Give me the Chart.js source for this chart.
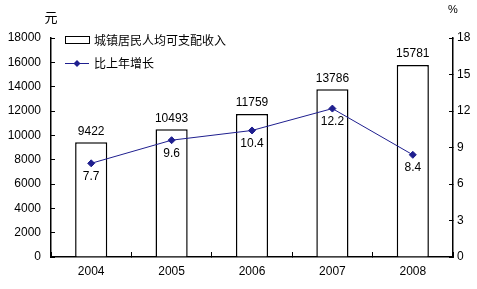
<!DOCTYPE html>
<html>
<head>
<meta charset="utf-8">
<script src="https://cdn.jsdelivr.net/npm/chart.js@4"></script>
<style>
  html, body { margin: 0; padding: 0; background: #fff; }
  #wrap { width: 477px; height: 289px; }
</style>
</head>
<body>
<div id="wrap"><canvas id="incomeChart" width="477" height="289"></canvas></div>
<script>
const years = ['2004', '2005', '2006', '2007', '2008'];
const income = [9422, 10493, 11759, 13786, 15781];
const growth = [7.7, 9.6, 10.4, 12.2, 8.4];
const leftTicks = [0, 2000, 4000, 6000, 8000, 10000, 12000, 14000, 16000, 18000];
const rightTicks = [0, 3, 6, 9, 12, 15, 18];

const FONT = '"Liberation Sans", "Noto Sans CJK SC", sans-serif';
const LINE = '#1f1f8f';

// labels, unit captions and the inset legend
const extras = {
  id: 'extras',
  afterDatasetsDraw(chart) {
    const c = chart.ctx;
    const area = chart.chartArea;
    c.save();
    c.fillStyle = '#000';
    c.font = '12px ' + FONT;
    c.textAlign = 'center';

    chart.getDatasetMeta(0).data.forEach((bar, i) => {
      c.textBaseline = 'bottom';
      c.fillText(String(income[i]), bar.x, bar.y - 5);
    });
    chart.getDatasetMeta(1).data.forEach((pt, i) => {
      c.textBaseline = 'top';
      c.fillText(growth[i].toFixed(1), pt.x, pt.y + 7);
    });

    c.font = '13px "Noto Sans CJK SC", sans-serif';
    c.textBaseline = 'middle';
    c.fillText('元', area.left, 17);
    c.font = '11px ' + FONT;
    c.fillText('%', area.right, 10);

    // legend
    const lx = area.left + 14;
    c.strokeStyle = '#000';
    c.lineWidth = 1;
    c.strokeRect(lx + 0.5, 36.5, 24, 7);
    c.font = '12px "Noto Sans CJK SC", sans-serif';
    c.textAlign = 'left';
    c.fillText(chart.data.datasets[0].label, lx + 29, 40);

    c.strokeStyle = LINE;
    c.beginPath();
    c.moveTo(lx, 63.5);
    c.lineTo(lx + 24, 63.5);
    c.stroke();
    c.fillStyle = LINE;
    c.beginPath();
    c.moveTo(lx + 12, 60);
    c.lineTo(lx + 15.5, 63.5);
    c.lineTo(lx + 12, 67);
    c.lineTo(lx + 8.5, 63.5);
    c.closePath();
    c.fill();
    c.fillStyle = '#000';
    c.fillText(chart.data.datasets[1].label, lx + 29, 63);
    c.restore();
  }
};

const ctx = document.getElementById('incomeChart').getContext('2d');
const chart = new Chart(ctx, {
  data: {
    labels: years,
    datasets: [
      {
        type: 'bar',
        label: '城镇居民人均可支配收入',
        data: income,
        backgroundColor: '#ffffff',
        borderColor: '#000000',
        borderWidth: 1.5,
        barPercentage: 0.4,
        categoryPercentage: 1,
        yAxisID: 'y',
        order: 2
      },
      {
        type: 'line',
        label: '比上年增长',
        data: growth,
        borderColor: LINE,
        backgroundColor: LINE,
        borderWidth: 1,
        pointStyle: 'rectRot',
        pointRadius: 3.5,
        pointHoverRadius: 3.5,
        fill: false,
        tension: 0,
        yAxisID: 'y1',
        order: 1
      }
    ]
  },
  options: {
    responsive: false,
    animation: false,
    layout: { padding: { top: 38 } },
    plugins: {
      legend: { display: false },
      tooltip: { enabled: false }
    },
    scales: {
      x: {
        grid: {
          display: true,
          drawOnChartArea: false,
          offset: true,
          tickLength: -5,
          color: '#000'
        },
        border: { color: '#000', width: 1.5 },
        ticks: { color: '#000', font: { family: FONT, size: 12 }, padding: 12 },
        afterFit(s) { s.height = 32; }
      },
      y: {
        position: 'left',
        min: 0,
        max: 18000,
        afterBuildTicks(s) { s.ticks = leftTicks.map(v => ({ value: v })); },
        grid: { drawOnChartArea: false, tickLength: -4, color: '#000' },
        border: { color: '#000', width: 1.5 },
        ticks: {
          color: '#000',
          font: { family: FONT, size: 12 },
          padding: 14,
          callback: v => String(v)
        },
        afterFit(s) { s.width = 51; }
      },
      y1: {
        position: 'right',
        min: 0,
        max: 18,
        afterBuildTicks(s) { s.ticks = rightTicks.map(v => ({ value: v })); },
        grid: { drawOnChartArea: false, tickLength: -4, color: '#000' },
        border: { color: '#000', width: 1.5 },
        ticks: {
          color: '#000',
          font: { family: FONT, size: 12 },
          padding: 8,
          callback: v => String(v)
        },
        afterFit(s) { s.width = 24; }
      }
    }
  },
  plugins: [extras]
});
</script>
</body>
</html>
